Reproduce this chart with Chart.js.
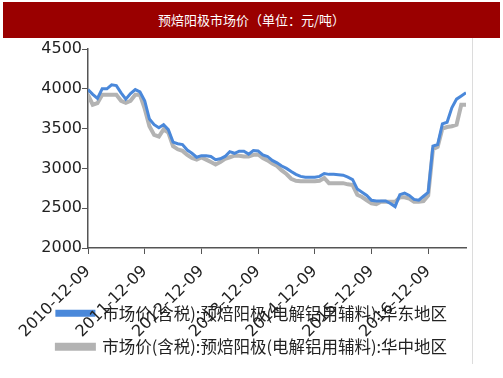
<!DOCTYPE html>
<html lang="zh">
<head>
<meta charset="UTF-8">
<title>预焙阳极市场价</title>
<script src="https://cdn.jsdelivr.net/npm/chart.js"></script>
<style>
  body { margin: 0; background: #fff; width: 503px; height: 378px; overflow: hidden; position: relative; }
  #titleBar { position: absolute; left: 3px; top: 2px; width: 497px; height: 36px; background: #9a0000;
    color: #fff; font: 13px "Noto Sans CJK SC", sans-serif; line-height: 36px; text-align: center; }
  #frame { position: absolute; left: 472px; top: 38px; width: 1px; height: 326px; background: #dcdcdc; }
  #box { position: absolute; left: 0; top: 38px; width: 503px; height: 340px; }
</style>
</head>
<body>
<div id="titleBar">预焙阳极市场价（单位：元/吨）</div>
<div id="frame"></div>
<div id="box"><canvas id="chart"></canvas></div>
<script>
// 月度数据，从 2010-12 起，共 81 个月
const yearLabels = ['2010-12-09', '2011-12-09', '2012-12-09', '2013-12-09', '2014-12-09', '2015-12-09', '2016-12-09'];
const yTicks = [2000, 2500, 3000, 3500, 4000, 4500];
const seriesNames = ['市场价(含税):预焙阳极(电解铝用辅料):华东地区', '市场价(含税):预焙阳极(电解铝用辅料):华中地区'];

const huadong = [
  3990, 3930, 3880, 4000, 4000, 4050, 4040, 3950, 3870, 3940, 3990, 3960,
  3850, 3620, 3550, 3510, 3550, 3487, 3330, 3310, 3300, 3230, 3190, 3140,
  3160, 3160, 3150, 3110, 3120, 3150, 3210, 3190, 3216, 3216, 3180, 3225,
  3220, 3170, 3150, 3100, 3070, 3030, 3000, 2960, 2925, 2900, 2890, 2890,
  2890, 2900, 2935, 2925, 2925, 2920, 2915, 2890, 2860, 2740, 2700, 2660,
  2600, 2590, 2590, 2590, 2560, 2520, 2670, 2690, 2660, 2610, 2600, 2650,
  2700, 3280, 3300, 3560, 3580, 3760, 3870, 3910, 3950
];
const huazhong = [
  3925, 3800, 3820, 3925, 3925, 3925, 3925, 3850, 3825, 3850, 3925, 3925,
  3750, 3530, 3420, 3400, 3490, 3450, 3280, 3240, 3220, 3170, 3130, 3110,
  3137, 3110, 3080, 3050, 3080, 3120, 3140, 3160, 3160, 3150, 3150, 3170,
  3175, 3130, 3100, 3060, 3030, 2975, 2930, 2870, 2845, 2840, 2840, 2840,
  2840, 2845, 2880, 2815, 2815, 2815, 2815, 2800, 2790, 2670, 2640, 2600,
  2560, 2550, 2580, 2580, 2580, 2580, 2637, 2637, 2620, 2580, 2580, 2590,
  2660, 3240, 3270, 3500, 3520, 3530, 3550, 3800, 3800
];

const toPoints = arr => arr.map((v, i) => ({ x: i, y: v }));

// 让日期标签延伸到图例区域（原图中两者重叠）
const unclipX = {
  id: 'unclipX',
  afterLayout(chart) { chart.scales.x.bottom = chart.height; }
};

new Chart(document.getElementById('chart'), {
  type: 'line',
  data: {
    datasets: [
      { label: seriesNames[0], data: toPoints(huadong), borderColor: '#4a88da', backgroundColor: '#4a88da',
        borderWidth: 3, pointRadius: 0, tension: 0 },
      { label: seriesNames[1], data: toPoints(huazhong), borderColor: '#b3b3b3', backgroundColor: '#b3b3b3',
        borderWidth: 4, pointRadius: 0, tension: 0 }
    ]
  },
  plugins: [unclipX],
  options: {
    responsive: true,
    maintainAspectRatio: false,
    animation: false,
    layout: { padding: { left: 38, right: 37, top: 11, bottom: 13 } },
    plugins: {
      tooltip: { enabled: false },
      legend: {
        position: 'bottom',
        labels: { boxWidth: 37, boxHeight: 4, padding: 17, color: '#222',
          font: { family: '"Noto Sans CJK SC", sans-serif', size: 16.5 } }
      }
    },
    scales: {
      x: {
        type: 'linear',
        min: 0,
        max: huadong.length - 1,
        afterBuildTicks: s => { s.ticks = yearLabels.map((_, i) => ({ value: i * 12 })); },
        afterFit: s => { s.height = 40; },
        grid: { drawOnChartArea: false, tickLength: 6, color: '#555' },
        border: { color: '#555', width: 1.5 },
        ticks: {
          maxRotation: 45, minRotation: 45, padding: 8, color: '#222',
          font: { family: '"DejaVu Sans", sans-serif', size: 16 },
          callback: v => yearLabels[v / 12]
        }
      },
      y: {
        min: 2000,
        max: 4500,
        afterBuildTicks: s => { s.ticks = yTicks.map(v => ({ value: v })); },
        afterFit: s => { s.width = 50; },
        grid: { drawOnChartArea: false, tickLength: 6, color: '#555' },
        border: { color: '#555', width: 1.5 },
        ticks: { padding: 0, color: '#222', font: { family: '"DejaVu Sans", sans-serif', size: 16 },
          callback: v => String(v) }
      }
    }
  }
});
</script>
</body>
</html>
